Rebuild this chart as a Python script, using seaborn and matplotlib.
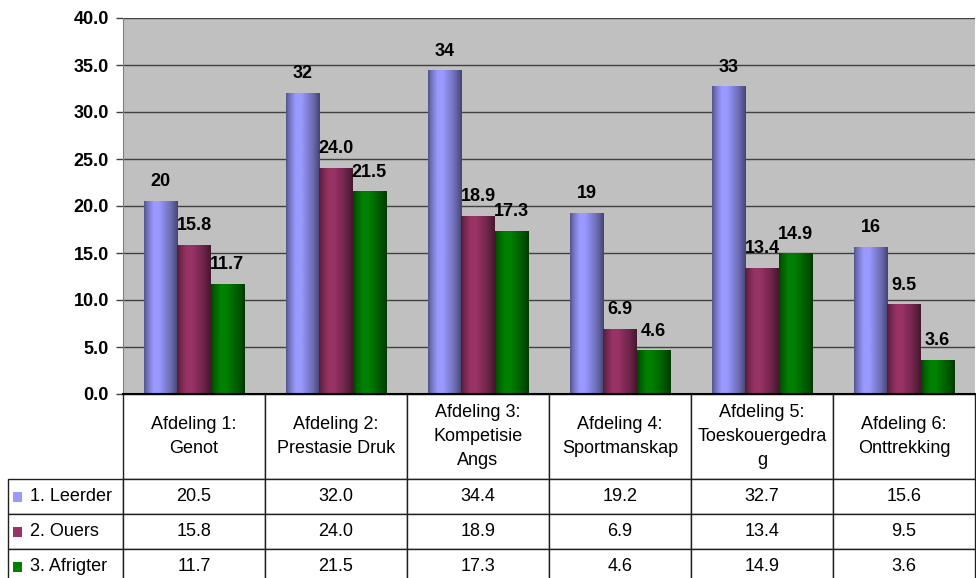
import numpy as np
import pandas as pd
import matplotlib
matplotlib.use('Agg')
import matplotlib.pyplot as plt
import seaborn as sns
from matplotlib.colors import to_rgb
from matplotlib.patches import Rectangle
from matplotlib.table import Table

categories = ['Afdeling 1:\nGenot', 'Afdeling 2:\nPrestasie Druk', 'Afdeling 3:\nKompetisie\nAngs',
              'Afdeling 4:\nSportmanskap', 'Afdeling 5:\nToeskouergedra\ng', 'Afdeling 6:\nOnttrekking']
series = ['1. Leerder', '2. Ouers', '3. Afrigter']
leerder = [20.5, 32.0, 34.4, 19.2, 32.7, 15.6]
ouers = [15.8, 24.0, 18.9, 6.9, 13.4, 9.5]
afrigter = [11.7, 21.5, 17.3, 4.6, 14.9, 3.6]
label_fmt = ['{:.0f}', '{:.1f}', '{:.1f}']
colors = ['#9999ff', '#993366', '#008000']

plt.rcParams['font.family'] = ['Liberation Sans', 'DejaVu Sans']

values = [leerder, ouers, afrigter]
df = pd.DataFrame({
    'cat': list(range(len(categories))) * 3,
    'reeks': np.repeat(series, len(categories)),
    'val': leerder + ouers + afrigter,
})

W, H = 976, 578
AX_W, AX_H = 852, 376
fig = plt.figure(figsize=(W / 100, H / 100), dpi=100)
ax = fig.add_axes([123 / W, 1 - 394 / H, AX_W / W, AX_H / H])
ax.set_facecolor('#c0c0c0')

sns.barplot(data=df, x='cat', y='val', hue='reeks', hue_order=series, palette=colors,
            width=0.7, gap=0, saturation=1, legend=False, ax=ax, zorder=2)


def shade(rgb, n=80):
    t = np.linspace(0, 1, n)
    f = np.interp(t, [0, 0.1, 0.28, 0.45, 0.8, 1], [0.55, 0.75, 1.0, 1.0, 0.7, 0.45])
    return (np.array(rgb)[None, :] * f[:, None])[None, :, :]


# cylinder-like shading on each bar, then labels
for k, cont in enumerate(ax.containers):
    grad = shade(to_rgb(colors[k]))
    for bar in cont:
        x, y = bar.get_x(), bar.get_y()
        w, h = bar.get_width(), bar.get_height()
        ax.imshow(grad, extent=[x, x + w, y, y + h], aspect='auto',
                  interpolation='bilinear', zorder=2.5)
    ax.bar_label(cont, labels=[label_fmt[k].format(v) for v in values[k]],
                 padding=8, fontsize=13, fontweight='bold')

ax.set_xlim(-0.5, len(categories) - 0.5)
ax.set_ylim(0, 40)
ax.set_yticks(np.arange(0, 41, 5))
ax.yaxis.set_major_formatter('{x:.1f}')
ax.set_xticks([])
ax.set_xlabel('')
ax.set_ylabel('')
for lbl in ax.get_yticklabels():
    lbl.set_fontweight('bold')
    lbl.set_fontsize(13)
ax.tick_params(axis='y', length=5, width=1, color='#404040', pad=5)
ax.yaxis.grid(True, color='#404040', lw=1)
ax.set_axisbelow(True)
for s in ['top', 'right']:
    ax.spines[s].set_visible(False)
ax.spines['left'].set_color('#808080')
ax.spines['bottom'].set_color('black')
ax.spines['bottom'].set_linewidth(1.5)

# data table under the plot (sizes in axes fractions)
col_w, lab_w = 142 / AX_W, 115 / AX_W
head_h, row_h = 85 / AX_H, 35 / AX_H
total_h = head_h + row_h * len(series)
tbl = Table(ax, bbox=[0, -total_h, col_w * len(categories), total_h])
for j, cat in enumerate(categories):
    tbl.add_cell(0, j, width=col_w, height=head_h, text=cat, loc='center', facecolor='white')
for i, s in enumerate(series):
    c = tbl.add_cell(i + 1, -1, width=lab_w, height=row_h, text=s, loc='left', facecolor='white')
    c.PAD = 22 / 115
    for j in range(len(categories)):
        tbl.add_cell(i + 1, j, width=col_w, height=row_h, text='{:.1f}'.format(values[i][j]),
                     loc='center', facecolor='white')
tbl.auto_set_font_size(False)
tbl.set_fontsize(13)
for (r, cidx), cell in tbl.get_celld().items():
    cell.set_edgecolor('#202020')
    cell.set_linewidth(1)
    if r == 0:
        cell.get_text().set_linespacing(1.55)
ax.add_table(tbl)

# legend keys inside the row labels
for i in range(len(series)):
    yc = -(head_h + row_h * (i + 0.5))
    ax.add_patch(Rectangle((-110 / AX_W, yc - 5 / AX_H), 9 / AX_W, 10 / AX_H, transform=ax.transAxes,
                           facecolor=colors[i], edgecolor='none', clip_on=False, zorder=5))

fig.savefig('out.png', dpi=100)
